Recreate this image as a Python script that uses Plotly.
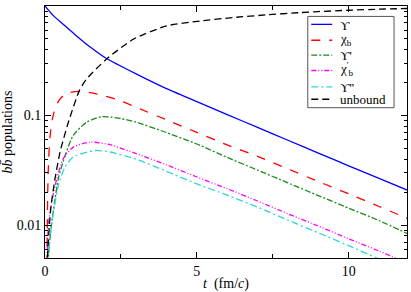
import plotly.graph_objects as go

# ---- data ----
t_ups = [0, 0.25, 0.6, 1.0, 1.5, 2.0, 3.0, 4.0, 5.0, 6.0, 7.0, 8.0, 9.0, 10.0, 11.0, 12.0]
ups = [1.0, 0.83, 0.68, 0.545, 0.42, 0.335, 0.24, 0.176, 0.134, 0.102, 0.078, 0.0595, 0.0455, 0.0348, 0.0267, 0.0205]

t_chib = [0, 0.06, 0.09, 0.12, 0.17, 0.25, 0.33, 0.45, 0.6, 0.8, 1.1, 1.5, 2.0, 2.5, 3, 4, 5, 6, 7, 8, 9, 10, 11, 12]
chib = [1e-4, 0.004, 0.02, 0.04, 0.066, 0.095, 0.115, 0.136, 0.152, 0.162, 0.166, 0.162, 0.150, 0.136, 0.119, 0.0915, 0.0702, 0.0539, 0.0425, 0.0326, 0.025, 0.0193, 0.0148, 0.0113]

t_ups2 = [0, 0.11, 0.2, 0.3, 0.44, 0.66, 0.93, 1.37, 1.85, 2.2, 2.5, 3, 4, 5, 6, 7, 8, 9, 10, 11, 12]
ups2 = [1e-4, 0.005, 0.0095, 0.0152, 0.0266, 0.043, 0.066, 0.087, 0.0975, 0.0965, 0.094, 0.087, 0.070, 0.055, 0.0415, 0.0318, 0.0243, 0.0186, 0.0143, 0.011, 0.0082]

t_chib2 = [0, 0.07, 0.11, 0.22, 0.39, 0.6, 0.93, 1.48, 2.14, 3, 4, 5, 6, 7, 8, 9, 10, 11, 12]
chib2 = [1e-4, 0.005, 0.010, 0.0163, 0.0266, 0.0404, 0.0515, 0.0573, 0.0542, 0.045, 0.0355, 0.0275, 0.0215, 0.0166, 0.0127, 0.0098, 0.0075, 0.0058, 0.0044]

t_ups3 = [0, 0.11, 0.19, 0.28, 0.44, 0.66, 0.93, 1.65, 2.14, 3, 4, 5, 6, 7, 8, 9, 10, 11, 12]
ups3 = [1e-4, 0.005, 0.0087, 0.0132, 0.0231, 0.034, 0.042, 0.048, 0.0465, 0.040, 0.031, 0.0238, 0.0188, 0.0146, 0.0111, 0.0085, 0.0065, 0.0049, 0.0037]

t_unb = [0, 0.08, 0.19, 0.33, 0.5, 0.77, 1.13, 1.37, 2.04, 2.91, 4.0, 5.1, 6.2, 7.3, 8.4, 9, 10, 11, 12]
unb = [1e-4, 0.005, 0.0142, 0.0266, 0.047, 0.087, 0.169, 0.216, 0.33, 0.498, 0.658, 0.73, 0.785, 0.83, 0.87, 0.89, 0.915, 0.935, 0.95]

names = ["ϒ", "χ<sub>b</sub>", "ϒ'", "χ<sup>'</sup><sub>b</sub>", "ϒ''", "unbound"]
colors = ["#0000ff", "#ff0000", "#1a8c1a", "#ff00ff", "#33d6d6", "#000000"]
dashes = ["solid", "dash", "6px,2px,2px,2px", "5px,2px,1px,2px,1px,2px", "7px,3px,2px,3px", "7px,4px"]

series = [(t_ups, ups), (t_chib, chib), (t_ups2, ups2), (t_chib2, chib2), (t_ups3, ups3), (t_unb, unb)]

W, H = 411, 292
ML, MR, MT, MB = 45, 3, 6, 32
PW, PH = W - ML - MR, H - MT - MB


def px(x):
    return (x - ML) / PW


def py(y):
    return (H - MB - y) / PH


fig = go.Figure()
for (tx, ty), nm, c, d in zip(series, names, colors, dashes):
    fig.add_trace(go.Scatter(x=tx, y=ty, mode="lines", name=nm, showlegend=False,
                             line=dict(color=c, width=1.3, dash=d, shape="spline", smoothing=0.6)))

# legend box drawn by hand (compact spacing like the original)
font = "Liberation Serif"
shapes = [dict(type="rect", xref="paper", yref="paper", x0=px(308.5), x1=px(395), y0=py(108.5), y1=py(16.5),
               line=dict(color="#555555", width=1), fillcolor="white", layer="above")]
annotations = []
row_y = [24.5, 40.5, 55.5, 71, 87.5, 100]
text_y = [25.5, 40, 56, 70, 88, 100.5]
for ry, tyy, nm, c, d in zip(row_y, text_y, names, colors, dashes):
    shapes.append(dict(type="line", xref="paper", yref="paper", x0=px(312), x1=px(333), y0=py(ry), y1=py(ry),
                       line=dict(color=c, width=1.3, dash=d), layer="above"))
    annotations.append(dict(xref="paper", yref="paper", x=px(340), y=py(tyy), text=nm, showarrow=False,
                            xanchor="left", yanchor="middle", borderpad=0,
                            font=dict(family=font, size=13, color="black")))

minor_y = [m * 10 ** e for e in (-3, -2, -1) for m in range(2, 10)]

fig.update_layout(
    width=W, height=H,
    margin=dict(l=ML, r=MR, t=MT, b=MB),
    paper_bgcolor="white", plot_bgcolor="white",
    font=dict(family=font, size=13, color="black"),
    showlegend=False,
    shapes=shapes, annotations=annotations,
)
fig.update_xaxes(range=[0, 11.92], showline=True, linecolor="black", linewidth=1,
                 mirror="allticks", ticks="inside", ticklen=6, tickcolor="black",
                 tickvals=[0, 5, 10], ticktext=["0", "5", "10"], showgrid=False, zeroline=False,
                 tickfont=dict(size=14),
                 minor=dict(tickvals=[2.5, 7.5], ticks="inside", ticklen=4, tickcolor="black"),
                 title=dict(text="<i>t</i>  (fm/<i>c</i>)", standoff=0, font=dict(size=14)))
fig.update_yaxes(type="log", range=[-2.3, 0], showline=True, linecolor="black", linewidth=1,
                 mirror="allticks", ticks="inside", ticklen=6, tickcolor="black",
                 tickvals=[0.01, 0.1, 1], ticktext=["0.01", "0.1", "1"], showgrid=False,
                 tickfont=dict(size=14),
                 minor=dict(tickvals=minor_y, ticks="inside", ticklen=3, tickcolor="black"),
                 title=dict(text="<i>b</i><i>b̄</i> populations", standoff=2, font=dict(size=14)))

fig.write_html("out.html", config={"displayModeBar": False},
               post_script="document.body.style.margin='0';")
